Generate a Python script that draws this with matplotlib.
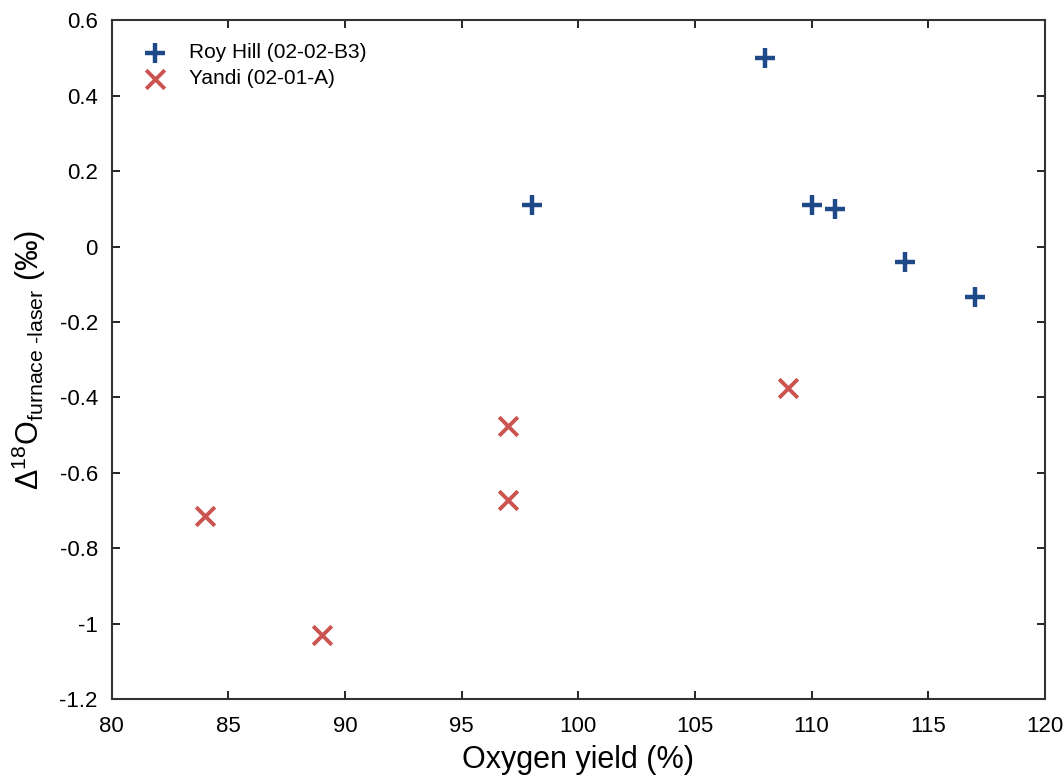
import numpy as np
import matplotlib
matplotlib.use('Agg')
import matplotlib.pyplot as plt

plt.rcParams['font.family'] = ['Liberation Sans', 'DejaVu Sans']
plt.rcParams['mathtext.fontset'] = 'custom'
plt.rcParams['mathtext.rm'] = 'Liberation Sans'
plt.rcParams['mathtext.it'] = 'Liberation Sans'

roy_x = [98, 108, 110, 111, 114, 117]
roy_y = [0.11, 0.50, 0.11, 0.10, -0.04, -0.133]
yandi_x = [84, 89, 97, 97, 109]
yandi_y = [-0.715, -1.03, -0.475, -0.673, -0.374]

x_ticks = [80, 85, 90, 95, 100, 105, 110, 115, 120]
y_ticks = [-1.2, -1, -0.8, -0.6, -0.4, -0.2, 0, 0.2, 0.4, 0.6]
y_tick_labels = ['-1.2', '-1', '-0.8', '-0.6', '-0.4', '-0.2', '0', '0.2', '0.4', '0.6']

fig = plt.figure(figsize=(10.64, 7.77), dpi=100)
ax = fig.add_axes([0.105, 0.1, 0.877, 0.874])

ax.scatter(roy_x, roy_y, marker='+', s=220, linewidths=3.2, color='#1f4a8a',
           label='Roy Hill (02-02-B3)')
ax.scatter(yandi_x, yandi_y, marker='x', s=180, linewidths=2.8, color='#cc5450',
           label='Yandi (02-01-A)')

ax.set_xlim(80, 120)
ax.set_ylim(-1.2, 0.6)
ax.set_xticks(x_ticks)
ax.set_yticks(y_ticks)
ax.set_yticklabels(y_tick_labels)
ax.tick_params(direction='in', top=True, right=True, labelsize=16, length=6,
               width=1.2)
ax.tick_params(axis='x', pad=12)
ax.tick_params(axis='y', pad=10)
for s in ax.spines.values():
    s.set_linewidth(1.5)
    s.set_color('#333333')

ax.set_xlabel('Oxygen yield (%)', fontsize=22, labelpad=6)
ax.set_ylabel('$\\Delta^{18}$O$_{\\rm furnace\\ \u2010laser}$ (\u2030)', fontsize=22,
              labelpad=8)

ax.legend(loc='upper left', frameon=False, fontsize=15, handletextpad=0.6,
          borderaxespad=0.7, labelspacing=0.35)

fig.savefig('out.png', dpi=100)
